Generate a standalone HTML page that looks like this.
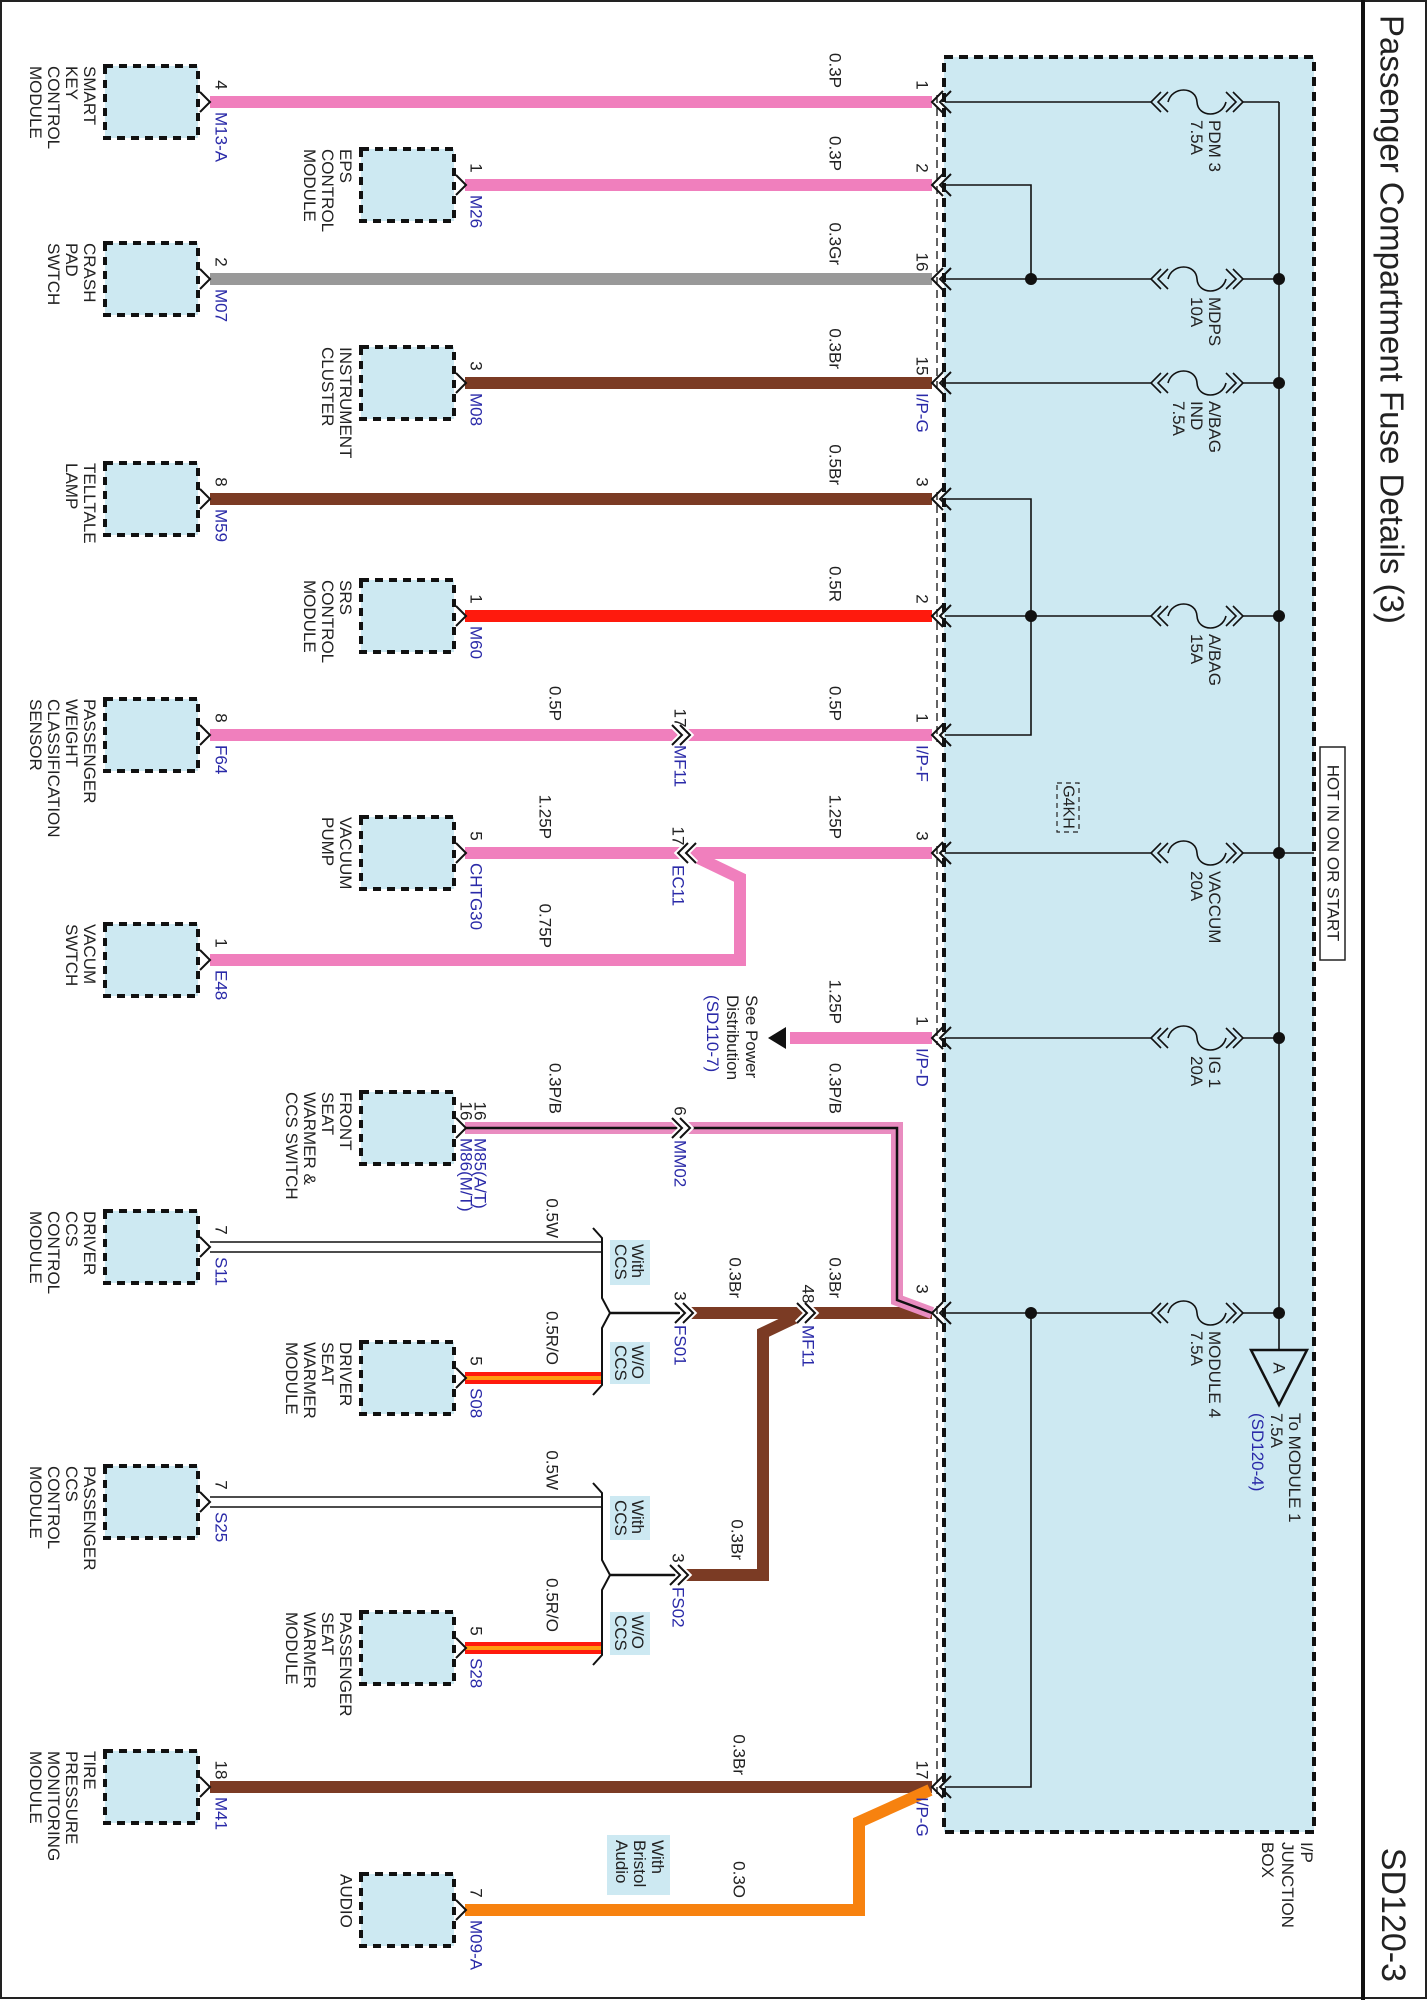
<!DOCTYPE html>
<html><head><meta charset="utf-8"><style>
html,body{margin:0;padding:0;background:#fff}
svg{display:block}
text{font-family:"Liberation Sans",sans-serif;font-size:17px;fill:#222;dominant-baseline:central}
.b{fill:#2a2aa8}
.g{font-size:16px}
</style></head><body>
<svg width="1428" height="2000" viewBox="0 0 1428 2000" xmlns="http://www.w3.org/2000/svg">
<rect x="1" y="1" width="1425" height="1997" fill="#fff" stroke="#222" stroke-width="2"/>
<line x1="1363" y1="0" x2="1363" y2="2000" stroke="#111" stroke-width="4"/>
<!-- junction box -->
<rect x="944" y="57" width="370" height="1775" fill="#cde9f2" stroke="#111" stroke-width="4" stroke-dasharray="9 6"/>
<g stroke="#111" stroke-width="1.3" stroke-dasharray="8 5" fill="none">
<line x1="937" y1="95" x2="937" y2="390"/><line x1="937" y1="492" x2="937" y2="742"/>
<line x1="937" y1="846" x2="937" y2="1045"/><line x1="937" y1="1306" x2="937" y2="1794"/>
</g>
<!-- modules -->
<g fill="#cde9f2" stroke="#111" stroke-width="4" stroke-dasharray="8 6">
<rect x="105" y="66" width="93" height="72"/><rect x="361" y="149" width="93" height="72"/>
<rect x="105" y="243" width="93" height="72"/><rect x="361" y="347" width="93" height="72"/>
<rect x="105" y="463" width="93" height="72"/><rect x="361" y="580" width="93" height="72"/>
<rect x="105" y="699" width="93" height="72"/><rect x="361" y="817" width="93" height="72"/>
<rect x="105" y="924" width="93" height="72"/><rect x="361" y="1092" width="93" height="72"/>
<rect x="105" y="1211" width="93" height="72"/><rect x="361" y="1342" width="93" height="72"/>
<rect x="105" y="1466" width="93" height="72"/><rect x="361" y="1612" width="93" height="72"/>
<rect x="105" y="1751" width="93" height="72"/><rect x="361" y="1874" width="93" height="72"/>
</g>
<!-- wires -->
<g fill="none" stroke-width="12" stroke-linejoin="miter">
<path d="M210 102H932M465 185H932M210 735H932M465 853H932M688 853L740 878V960H210M790 1038H932" stroke="#f07fbd"/>
<path d="M210 279H932" stroke="#999"/>
<path d="M465 383H932M210 499H932M688 1313H932M805 1313L763 1333V1575H683M210 1787H932" stroke="#7b3b24"/>
<path d="M465 616H932" stroke="#ff1a0d"/>
<path d="M465 1128H897V1300L932 1313" stroke="#e98cc0"/>
<path d="M465 1128H897V1300L932 1313" stroke="#111" stroke-width="2.5"/>
<path d="M465 1378H602M465 1648H602" stroke="#ff1a0d"/>
<path d="M465 1378H602M465 1648H602" stroke="#ff9a10" stroke-width="4"/>
<path d="M465 1910H859V1822L930 1790" stroke="#f7820f"/>
</g>
<polygon points="768,1038 786,1027 786,1049" fill="#111"/>
<!-- CCS lines and splices -->
<g fill="none" stroke="#111" stroke-width="1.5">
<path d="M210 1242H602M210 1252H602M210 1497H602M210 1507H602"/>
<path d="M593 1228L602 1238V1298L610 1313L602 1328V1385L593 1395" stroke-width="2"/>
<path d="M593 1483L602 1493V1560L610 1575L602 1590V1655L593 1665" stroke-width="2"/>
<path d="M610 1313H680M610 1575H676" stroke-width="2.5"/>
</g>
<g fill="#cde9f2"><rect x="610" y="1240" width="40" height="45"/><rect x="610" y="1342" width="40" height="42"/><rect x="610" y="1496" width="40" height="44"/><rect x="610" y="1612" width="40" height="43"/><rect x="607" y="1835" width="63" height="60"/></g>
<!-- module end chevrons -->
<g fill="none" stroke="#111" stroke-width="2">
<path d="M200 92L210 102L200 112M456 175L466 185L456 195M200 269L210 279L200 289M456 373L466 383L456 393M200 489L210 499L200 509M456 606L466 616L456 626M200 725L210 735L200 745M456 843L466 853L456 863M200 950L210 960L200 970M456 1118L466 1128L456 1138M200 1237L210 1247L200 1257M456 1368L466 1378L456 1388M200 1492L210 1502L200 1512M456 1638L466 1648L456 1658M200 1777L210 1787L200 1797M456 1900L466 1910L456 1920"/>
</g>
<!-- box chevrons -->
<g fill="none" stroke="#111" stroke-width="2">
<path d="M943 91L932 102L943 113M951 91L940 102L951 113
M943 174L932 185L943 196M951 174L940 185L951 196
M943 268L932 279L943 290M951 268L940 279L951 290
M943 372L932 383L943 394M951 372L940 383L951 394
M943 488L932 499L943 510M951 488L940 499L951 510
M943 605L932 616L943 627M951 605L940 616L951 627
M943 724L932 735L943 746M951 724L940 735L951 746
M943 842L932 853L943 864M951 842L940 853L951 864
M943 1027L932 1038L943 1049M951 1027L940 1038L951 1049
M943 1302L932 1313L943 1324M951 1302L940 1313L951 1324
M943 1776L932 1787L943 1798M951 1776L940 1787L951 1798"/>
</g>
<!-- inline connectors -->
<g fill="none" stroke="#fff" stroke-width="6">
<path d="M672 725L682 735L672 745M680 725L690 735L680 745M688 843L678 853L688 863M696 843L686 853L696 863M672 1118L682 1128L672 1138M680 1118L690 1128L680 1138M675 1303L685 1313L675 1323M683 1303L693 1313L683 1323M797 1303L807 1313L797 1323M805 1303L815 1313L805 1323M670 1565L680 1575L670 1585M678 1565L688 1575L678 1585"/>
</g>
<g fill="none" stroke="#111" stroke-width="2">
<path d="M672 725L682 735L672 745M680 725L690 735L680 745M688 843L678 853L688 863M696 843L686 853L696 863M672 1118L682 1128L672 1138M680 1118L690 1128L680 1138M675 1303L685 1313L675 1323M683 1303L693 1313L683 1323M797 1303L807 1313L797 1323M805 1303L815 1313L805 1323M670 1565L680 1575L670 1585M678 1565L688 1575L678 1585"/>
</g>
<!-- internal junction lines -->
<g fill="none" stroke="#111" stroke-width="1.6">
<path d="M1279 102V1350M945 102H1152M1243 102H1279M945 185H1031V279M945 279H1152M1243 279H1279M945 383H1152M1243 383H1279M945 499H1031V735H945M945 616H1152M1243 616H1279M945 853H1152M1243 853H1314M945 1038H1152M1243 1038H1279M945 1313H1152M1243 1313H1279M1031 1313V1787H945"/>
<path d="M1161 92L1151 102L1161 112M1168 92L1158 102L1168 112M1233 92L1243 102L1233 112M1226 92L1236 102L1226 112M1168 102C1172 86 1196 86 1197 102C1198 118 1222 118 1226 102"/>
<path d="M1161 269L1151 279L1161 289M1168 269L1158 279L1168 289M1233 269L1243 279L1233 289M1226 269L1236 279L1226 289M1168 279C1172 263 1196 263 1197 279C1198 295 1222 295 1226 279"/>
<path d="M1161 373L1151 383L1161 393M1168 373L1158 383L1168 393M1233 373L1243 383L1233 393M1226 373L1236 383L1226 393M1168 383C1172 367 1196 367 1197 383C1198 399 1222 399 1226 383"/>
<path d="M1161 606L1151 616L1161 626M1168 606L1158 616L1168 626M1233 606L1243 616L1233 626M1226 606L1236 616L1226 626M1168 616C1172 600 1196 600 1197 616C1198 632 1222 632 1226 616"/>
<path d="M1161 843L1151 853L1161 863M1168 843L1158 853L1168 863M1233 843L1243 853L1233 863M1226 843L1236 853L1226 863M1168 853C1172 837 1196 837 1197 853C1198 869 1222 869 1226 853"/>
<path d="M1161 1028L1151 1038L1161 1048M1168 1028L1158 1038L1168 1048M1233 1028L1243 1038L1233 1048M1226 1028L1236 1038L1226 1048M1168 1038C1172 1022 1196 1022 1197 1038C1198 1054 1222 1054 1226 1038"/>
<path d="M1161 1303L1151 1313L1161 1323M1168 1303L1158 1313L1168 1323M1233 1303L1243 1313L1233 1323M1226 1303L1236 1313L1226 1323M1168 1313C1172 1297 1196 1297 1197 1313C1198 1329 1222 1329 1226 1313"/>
</g>
<g fill="#111"><circle cx="1031" cy="279" r="6"/><circle cx="1031" cy="616" r="6"/><circle cx="1031" cy="1313" r="6"/><circle cx="1279" cy="279" r="6"/><circle cx="1279" cy="383" r="6"/><circle cx="1279" cy="616" r="6"/><circle cx="1279" cy="853" r="6"/><circle cx="1279" cy="1038" r="6"/><circle cx="1279" cy="1313" r="6"/></g>
<polygon points="1251,1350 1307,1350 1279,1405" fill="#cde9f2" stroke="#111" stroke-width="2.5"/>
<rect x="1320" y="747" width="25" height="213" fill="#fff" stroke="#222" stroke-width="1.5"/>
<rect x="1057" y="783" width="22" height="49" fill="none" stroke="#222" stroke-width="1.2" stroke-dasharray="5 4"/>

<g transform="translate(1428,0) rotate(90)">
<text x="15" y="36" style="font-size:33px">Passenger Compartment Fuse Details (3)</text>
<text x="1982" y="35" text-anchor="end" style="font-size:34px">SD120-3</text>
<!-- module labels -->
<text x="66" y="1338"><tspan x="66">SMART</tspan><tspan x="66" dy="18">KEY</tspan><tspan x="66" dy="18">CONTROL</tspan><tspan x="66" dy="18">MODULE</tspan></text>
<text x="149" y="1082"><tspan x="149">EPS</tspan><tspan x="149" dy="18">CONTROL</tspan><tspan x="149" dy="18">MODULE</tspan></text>
<text x="243" y="1338"><tspan x="243">CRASH</tspan><tspan x="243" dy="18">PAD</tspan><tspan x="243" dy="18">SWTCH</tspan></text>
<text x="347" y="1082"><tspan x="347">INSTRUMENT</tspan><tspan x="347" dy="18">CLUSTER</tspan></text>
<text x="463" y="1338"><tspan x="463">TELLTALE</tspan><tspan x="463" dy="18">LAMP</tspan></text>
<text x="580" y="1082"><tspan x="580">SRS</tspan><tspan x="580" dy="18">CONTROL</tspan><tspan x="580" dy="18">MODULE</tspan></text>
<text x="699" y="1338"><tspan x="699">PASSENGER</tspan><tspan x="699" dy="18">WEIGHT</tspan><tspan x="699" dy="18">CLASSIFICATION</tspan><tspan x="699" dy="18">SENSOR</tspan></text>
<text x="817" y="1082"><tspan x="817">VACUUM</tspan><tspan x="817" dy="18">PUMP</tspan></text>
<text x="924" y="1338"><tspan x="924">VACUM</tspan><tspan x="924" dy="18">SWTCH</tspan></text>
<text x="1092" y="1082"><tspan x="1092">FRONT</tspan><tspan x="1092" dy="18">SEAT</tspan><tspan x="1092" dy="18">WARMER &amp;</tspan><tspan x="1092" dy="18">CCS SWITCH</tspan></text>
<text x="1211" y="1338"><tspan x="1211">DRIVER</tspan><tspan x="1211" dy="18">CCS</tspan><tspan x="1211" dy="18">CONTROL</tspan><tspan x="1211" dy="18">MODULE</tspan></text>
<text x="1342" y="1082"><tspan x="1342">DRIVER</tspan><tspan x="1342" dy="18">SEAT</tspan><tspan x="1342" dy="18">WARMER</tspan><tspan x="1342" dy="18">MODULE</tspan></text>
<text x="1466" y="1338"><tspan x="1466">PASSENGER</tspan><tspan x="1466" dy="18">CCS</tspan><tspan x="1466" dy="18">CONTROL</tspan><tspan x="1466" dy="18">MODULE</tspan></text>
<text x="1612" y="1082"><tspan x="1612">PASSENGER</tspan><tspan x="1612" dy="18">SEAT</tspan><tspan x="1612" dy="18">WARMER</tspan><tspan x="1612" dy="18">MODULE</tspan></text>
<text x="1751" y="1338"><tspan x="1751">TIRE</tspan><tspan x="1751" dy="18">PRESSURE</tspan><tspan x="1751" dy="18">MONITORING</tspan><tspan x="1751" dy="18">MODULE</tspan></text>
<text x="1874" y="1082">AUDIO</text>
<!-- module pins -->
<g text-anchor="middle">
<text x="85" y="1207">4</text><text x="168" y="952">1</text><text x="262" y="1207">2</text><text x="366" y="952">3</text>
<text x="482" y="1207">8</text><text x="599" y="952">1</text><text x="718" y="1207">8</text><text x="836" y="952">5</text>
<text x="943" y="1207">1</text><text x="1230" y="1207">7</text><text x="1361" y="952">5</text>
<text x="1485" y="1207">7</text><text x="1631" y="952">5</text><text x="1770" y="1207">18</text><text x="1893" y="952">7</text>
<text x="1111" y="948">16</text><text x="1111" y="962">16</text>
</g>
<text x="112" y="1207" class="b">M13-A</text><text x="195" y="952" class="b">M26</text>
<text x="289" y="1207" class="b">M07</text><text x="393" y="952" class="b">M08</text>
<text x="509" y="1207" class="b">M59</text><text x="626" y="952" class="b">M60</text>
<text x="745" y="1207" class="b">F64</text><text x="863" y="952" class="b">CHTG30</text>
<text x="970" y="1207" class="b">E48</text>
<text x="1138" y="948" class="b">M85(A/T)</text><text x="1138" y="962" class="b">M86(M/T)</text>
<text x="1257" y="1207" class="b">S11</text><text x="1388" y="952" class="b">S08</text>
<text x="1512" y="1207" class="b">S25</text><text x="1658" y="952" class="b">S28</text>
<text x="1797" y="1207" class="b">M41</text><text x="1920" y="952" class="b">M09-A</text>
<!-- box pins -->
<g text-anchor="middle">
<text x="85" y="506">1</text><text x="168" y="506">2</text><text x="262" y="506">16</text><text x="366" y="506">15</text>
<text x="482" y="506">3</text><text x="599" y="506">2</text><text x="718" y="506">1</text><text x="836" y="506">3</text>
<text x="1021" y="506">1</text><text x="1289" y="506">3</text><text x="1770" y="506">17</text>
<text x="718" y="748">17</text><text x="836" y="750">17</text><text x="1111" y="748">6</text>
<text x="1296" y="748">3</text><text x="1294" y="620">48</text><text x="1558" y="750">3</text>
</g>
<text x="393" y="506" class="b">I/P-G</text><text x="745" y="506" class="b">I/P-F</text>
<text x="1048" y="506" class="b">I/P-D</text><text x="1797" y="506" class="b">I/P-G</text>
<text x="745" y="748" class="b">MF11</text><text x="865" y="750" class="b">EC11</text>
<text x="1140" y="748" class="b">MM02</text><text x="1325" y="748" class="b">FS01</text>
<text x="1325" y="620" class="b">MF11</text><text x="1587" y="750" class="b">FS02</text>
<!-- gauges -->
<g text-anchor="end" class="g">
<text x="88" y="593">0.3P</text><text x="171" y="593">0.3P</text><text x="265" y="593">0.3Gr</text>
<text x="369" y="593">0.3Br</text><text x="485" y="593">0.5Br</text><text x="602" y="593">0.5R</text>
<text x="721" y="593">0.5P</text><text x="721" y="873">0.5P</text>
<text x="839" y="593">1.25P</text><text x="839" y="883">1.25P</text><text x="948" y="883">0.75P</text>
<text x="1024" y="593">1.25P</text><text x="1114" y="593">0.3P/B</text><text x="1114" y="873">0.3P/B</text>
<text x="1238" y="876">0.5W</text><text x="1490" y="876">0.5W</text>
<text x="1365" y="876">0.5R/O</text><text x="1632" y="876">0.5R/O</text>
<text x="1298" y="693">0.3Br</text><text x="1298" y="593">0.3Br</text><text x="1560" y="691">0.3Br</text>
<text x="1775" y="689">0.3Br</text><text x="1898" y="689">0.3O</text>
</g>
<!-- see power -->
<text x="995" y="676"><tspan x="995">See Power</tspan><tspan x="995" dy="19">Distribution</tspan><tspan x="995" dy="20" class="b">(SD110-7)</tspan></text>
<!-- option boxes -->
<g class="g">
<text x="1244" y="790"><tspan x="1244">With</tspan><tspan x="1244" dy="17">CCS</tspan></text>
<text x="1345" y="790"><tspan x="1345">W/O</tspan><tspan x="1345" dy="17">CCS</tspan></text>
<text x="1500" y="790"><tspan x="1500">With</tspan><tspan x="1500" dy="17">CCS</tspan></text>
<text x="1615" y="790"><tspan x="1615">W/O</tspan><tspan x="1615" dy="17">CCS</tspan></text>
<text x="1840" y="770"><tspan x="1840">With</tspan><tspan x="1840" dy="18">Bristol</tspan><tspan x="1840" dy="18">Audio</tspan></text>
</g>
<!-- fuse labels -->
<text x="120" y="213"><tspan x="120">PDM 3</tspan><tspan x="120" dy="18">7.5A</tspan></text>
<text x="297" y="213"><tspan x="297">MDPS</tspan><tspan x="297" dy="18">10A</tspan></text>
<text x="401" y="213"><tspan x="401">A/BAG</tspan><tspan x="401" dy="18">IND</tspan><tspan x="401" dy="18">7.5A</tspan></text>
<text x="634" y="213"><tspan x="634">A/BAG</tspan><tspan x="634" dy="18">15A</tspan></text>
<text x="871" y="213"><tspan x="871">VACCUM</tspan><tspan x="871" dy="18">20A</tspan></text>
<text x="1056" y="213"><tspan x="1056">IG 1</tspan><tspan x="1056" dy="18">20A</tspan></text>
<text x="1331" y="213"><tspan x="1331">MODULE 4</tspan><tspan x="1331" dy="18">7.5A</tspan></text>
<text x="1413" y="133"><tspan x="1413">To MODULE 1</tspan><tspan x="1413" dy="18">7.5A</tspan><tspan x="1413" dy="19" class="b">(SD120-4)</tspan></text>
<text x="1368" y="149" text-anchor="middle">A</text>
<text x="853" y="95" text-anchor="middle">HOT IN ON OR START</text>
<text x="807" y="360" text-anchor="middle" class="g">G4KH</text>
<text x="1842" y="121"><tspan x="1842">I/P</tspan><tspan x="1842" dy="19">JUNCTION</tspan><tspan x="1842" dy="20">BOX</tspan></text>
</g>
</svg>
</body></html>
